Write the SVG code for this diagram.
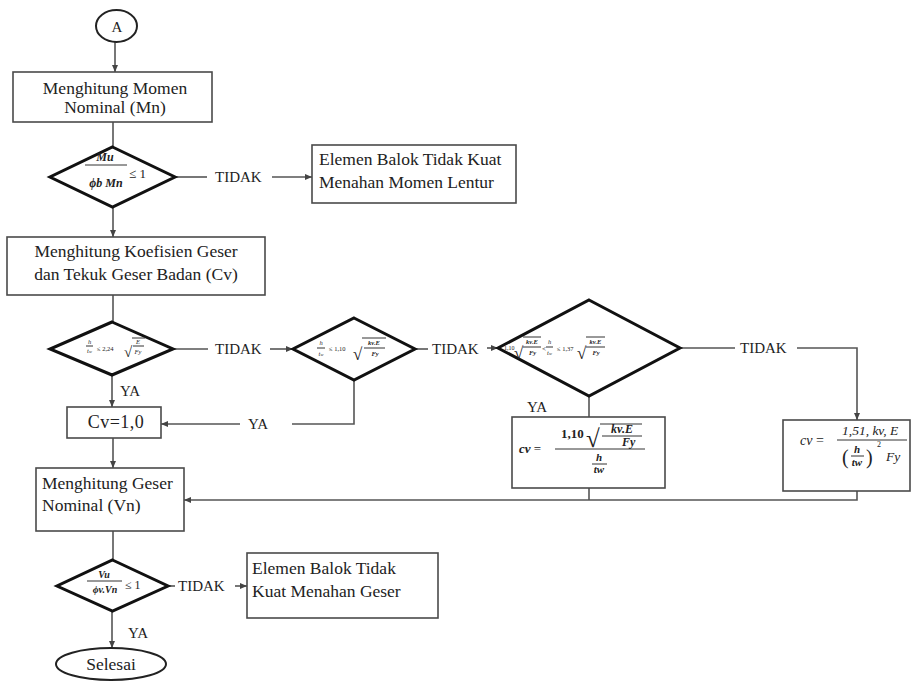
<svg xmlns="http://www.w3.org/2000/svg" width="924" height="681" viewBox="0 0 924 681">
  <style>
    text { font-family: "Liberation Serif", "Times New Roman", "DejaVu Serif", serif; fill: #222; }
    .box { fill: #fff; stroke: #4a4a4a; stroke-width: 1.6; }
    .dia { fill: #fff; stroke: #111; stroke-width: 3; stroke-linejoin: miter; }
    .term { fill: #fff; stroke: #222; stroke-width: 2; }
    .lbl { font-size: 17.5px; }
    .tag { font-size: 15px; }
    .mi { font-style: italic; font-weight: bold; }
    .it { font-style: italic; }
    .bar { stroke: #333; stroke-width: 1; }
    .conn path { fill: none; stroke: #555; stroke-width: 1.6; }
  </style>
  <defs>
    <marker id="arrow" markerUnits="userSpaceOnUse" markerWidth="7" markerHeight="6" refX="7" refY="3" orient="auto">
      <path d="M0,0 L7,3 L0,6 z" fill="#444"/>
    </marker>
  </defs>

  <rect width="924" height="681" fill="#fff"/>

  <!-- connectors -->
  <g id="connectors" class="conn">
    <path d="M115,42 V72" marker-end="url(#arrow)"/>
    <path d="M113,122 V147"/>
    <path d="M175,177 H207"/>
    <path d="M272,177 H312" marker-end="url(#arrow)"/>
    <path d="M113,207 V237" marker-end="url(#arrow)"/>
    <path d="M113,295 V322"/>
    <path d="M173,349 H208"/>
    <path d="M270,349 H293" marker-end="url(#arrow)"/>
    <path d="M415,349 H428"/>
    <path d="M487,348 H498" marker-end="url(#arrow)"/>
    <path d="M680,348 H735"/>
    <path d="M797,348 H857 V420" marker-end="url(#arrow)"/>
    <path d="M589,396 V417"/>
    <path d="M354,380 V424 H292"/>
    <path d="M240,424 H161" marker-end="url(#arrow)"/>
    <path d="M112,375 V407" marker-end="url(#arrow)"/>
    <path d="M113,438 V468" marker-end="url(#arrow)"/>
    <path d="M857,491 V500 H184" marker-end="url(#arrow)"/>
    <path d="M589,488 V500"/>
    <path d="M113,531 V560"/>
    <path d="M168,586 H175"/>
    <path d="M235,586 H247" marker-end="url(#arrow)"/>
    <path d="M112,611 V648" marker-end="url(#arrow)"/>
    <!-- branch labels -->
    <text class="tag" x="215" y="182">TIDAK</text>
    <text class="tag" x="215" y="354">TIDAK</text>
    <text class="tag" x="432" y="354">TIDAK</text>
    <text class="tag" x="740" y="353">TIDAK</text>
    <text class="tag" x="178" y="591">TIDAK</text>
    <text class="tag" x="120" y="396">YA</text>
    <text class="tag" x="248" y="429">YA</text>
    <text class="tag" x="527" y="412">YA</text>
    <text class="tag" x="128" y="638">YA</text>
  </g>

  <!-- start connector -->
  <g id="start">
    <ellipse class="term" cx="116.5" cy="26" rx="20.5" ry="16"/>
    <text x="117" y="32" font-size="15" text-anchor="middle">A</text>
  </g>

  <g id="momen-nominal">
    <rect class="box" x="13" y="72" width="199" height="50"/>
    <text class="lbl" x="115" y="94" text-anchor="middle">Menghitung Momen</text>
    <text class="lbl" x="115" y="113" text-anchor="middle">Nominal (Mn)</text>
  </g>

  <g id="cek-momen">
    <polygon class="dia" points="112.5,147 175,177 112.5,207 50,177"/>
    <text class="mi" x="105" y="161" font-size="12" text-anchor="middle">Mu</text>
    <line class="bar" x1="85" y1="165" x2="127" y2="165"/>
    <text class="mi" x="106" y="187" font-size="12" text-anchor="middle">ϕb Mn</text>
    <text x="129" y="178" font-size="13">≤ 1</text>
  </g>

  <g id="gagal-lentur">
    <rect class="box" x="312" y="145" width="204" height="58"/>
    <text class="lbl" x="319" y="165">Elemen Balok Tidak Kuat</text>
    <text class="lbl" x="319" y="188">Menahan Momen Lentur</text>
  </g>

  <g id="koefisien-geser">
    <rect class="box" x="7" y="237" width="258" height="58"/>
    <text class="lbl" x="136" y="257" text-anchor="middle">Menghitung Koefisien Geser</text>
    <text class="lbl" x="136" y="280" text-anchor="middle">dan Tekuk Geser Badan (Cv)</text>
  </g>

  <g id="cek-224">
    <polygon class="dia" points="112,322 173,349 112,375 50,349"/>
    <text class="it" x="89.5" y="344" font-size="6.5" text-anchor="middle">h</text>
    <line class="bar" x1="86" y1="346" x2="93" y2="346" stroke-width="0.6"/>
    <text class="it" x="89.5" y="353" font-size="6.5" text-anchor="middle">t<tspan font-size="4.5">w</tspan></text>
    <text x="97" y="351" font-size="6.5">≤ 2,24</text>
    <text x="124" y="357" font-size="15">√</text>
    <line class="bar" x1="132" y1="338" x2="145" y2="338" stroke-width="0.7"/>
    <text class="it" x="138" y="344" font-size="6.5" text-anchor="middle">E</text>
    <line class="bar" x1="133" y1="346" x2="144" y2="346" stroke-width="0.6"/>
    <text class="it" x="138" y="354" font-size="6.5" text-anchor="middle">Fy</text>
  </g>

  <g id="cek-110">
    <polygon class="dia" points="354,318 415,349 354,380 293,349"/>
    <text class="it" x="321" y="345" font-size="6.5" text-anchor="middle">h</text>
    <line class="bar" x1="317" y1="348" x2="325" y2="348" stroke-width="0.6"/>
    <text class="it" x="321" y="356" font-size="6.5" text-anchor="middle">t<tspan font-size="4.5">w</tspan></text>
    <text x="329" y="351" font-size="6.5">≤ 1,10</text>
    <text x="353" y="360" font-size="17">√</text>
    <line class="bar" x1="362" y1="338" x2="386" y2="338" stroke-width="0.7"/>
    <text class="mi" x="374" y="345" font-size="6.5" text-anchor="middle">kv.E</text>
    <line class="bar" x1="364" y1="348" x2="385" y2="348" stroke-width="0.6"/>
    <text class="mi" x="375" y="356" font-size="6.5" text-anchor="middle">Fy</text>
  </g>

  <g id="cek-137">
    <polygon class="dia" points="589,300 680,348 589,396 498,348"/>
    <text x="504" y="350" font-size="6">1,10</text>
    <text x="514" y="359" font-size="17">√</text>
    <line class="bar" x1="523" y1="337" x2="541" y2="337" stroke-width="0.7"/>
    <text class="mi" x="532" y="344" font-size="6.5" text-anchor="middle">kv.E</text>
    <line class="bar" x1="523" y1="347" x2="541" y2="347" stroke-width="0.6"/>
    <text class="mi" x="532.5" y="355" font-size="6.5" text-anchor="middle">Fy</text>
    <text x="542" y="351" font-size="7">&lt;</text>
    <text class="it" x="549.5" y="344" font-size="6.5" text-anchor="middle">h</text>
    <line class="bar" x1="546" y1="347" x2="553" y2="347" stroke-width="0.6"/>
    <text class="it" x="549.5" y="355" font-size="6.5" text-anchor="middle">t<tspan font-size="4.5">w</tspan></text>
    <text x="557" y="351" font-size="6.5">≤ 1,37</text>
    <text x="577" y="359" font-size="17">√</text>
    <line class="bar" x1="586" y1="337" x2="605" y2="337" stroke-width="0.7"/>
    <text class="mi" x="595.5" y="344" font-size="6.5" text-anchor="middle">kv.E</text>
    <line class="bar" x1="586" y1="347" x2="605" y2="347" stroke-width="0.6"/>
    <text class="mi" x="596" y="355" font-size="6.5" text-anchor="middle">Fy</text>
  </g>

  <g id="cv-110">
    <rect class="box" x="512" y="417" width="153" height="71"/>
    <text x="519" y="453" font-size="13"><tspan class="mi">cv</tspan> =</text>
    <line class="bar" x1="555" y1="449" x2="645" y2="449"/>
    <text x="561" y="438" font-size="13" font-weight="bold">1,10</text>
    <text x="586" y="447" font-size="25">√</text>
    <line class="bar" x1="600" y1="424" x2="642" y2="424" stroke-width="1.2"/>
    <text class="mi" x="622" y="433" font-size="12" text-anchor="middle">kv.E</text>
    <line class="bar" x1="602" y1="436" x2="642" y2="436"/>
    <text class="mi" x="622" y="446" font-size="12">Fy</text>
    <text class="mi" x="599" y="461" font-size="11" text-anchor="middle">h</text>
    <line class="bar" x1="592" y1="464" x2="607" y2="464"/>
    <text class="mi" x="599" y="473" font-size="11" text-anchor="middle">tw</text>
  </g>

  <g id="cv-151">
    <rect class="box" x="783" y="420" width="127" height="71"/>
    <text class="it" x="800" y="445" font-size="14">cv <tspan font-style="normal">=</tspan></text>
    <line class="bar" x1="837" y1="440" x2="907" y2="440"/>
    <text class="it" x="842" y="435" font-size="13.5">1,51, kv, E</text>
    <text x="842" y="464" font-size="20">(</text>
    <text class="mi" x="857" y="453" font-size="11" text-anchor="middle">h</text>
    <line class="bar" x1="851" y1="456" x2="864" y2="456"/>
    <text class="mi" x="857" y="466" font-size="11" text-anchor="middle">tw</text>
    <text x="866" y="464" font-size="20">)</text>
    <text x="877" y="447" font-size="8">2</text>
    <text class="it" x="886" y="461" font-size="13.5">Fy</text>
  </g>

  <g id="cv-10">
    <rect class="box" x="67" y="407" width="94" height="31"/>
    <text x="116" y="428" font-size="18" text-anchor="middle" letter-spacing="0.5">Cv=1,0</text>
  </g>

  <g id="geser-nominal">
    <rect class="box" x="36" y="468" width="148" height="63"/>
    <text class="lbl" x="42" y="489">Menghitung Geser</text>
    <text class="lbl" x="42" y="511">Nominal (Vn)</text>
  </g>

  <g id="cek-geser">
    <polygon class="dia" points="112.5,560 168,586 112.5,611 57,586"/>
    <text class="mi" x="104" y="578" font-size="10" text-anchor="middle">Vu</text>
    <line class="bar" x1="87" y1="581" x2="122" y2="581"/>
    <text class="mi" x="105" y="593" font-size="10" text-anchor="middle">ϕv.Vn</text>
    <text x="125" y="589" font-size="12">≤ 1</text>
  </g>

  <g id="gagal-geser">
    <rect class="box" x="247" y="553" width="191" height="65"/>
    <text class="lbl" x="252" y="574">Elemen Balok Tidak</text>
    <text class="lbl" x="252" y="597">Kuat Menahan Geser</text>
  </g>

  <g id="selesai">
    <ellipse class="term" cx="111" cy="664" rx="55" ry="16"/>
    <text x="111" y="670" font-size="17.5" text-anchor="middle">Selesai</text>
  </g>
</svg>
